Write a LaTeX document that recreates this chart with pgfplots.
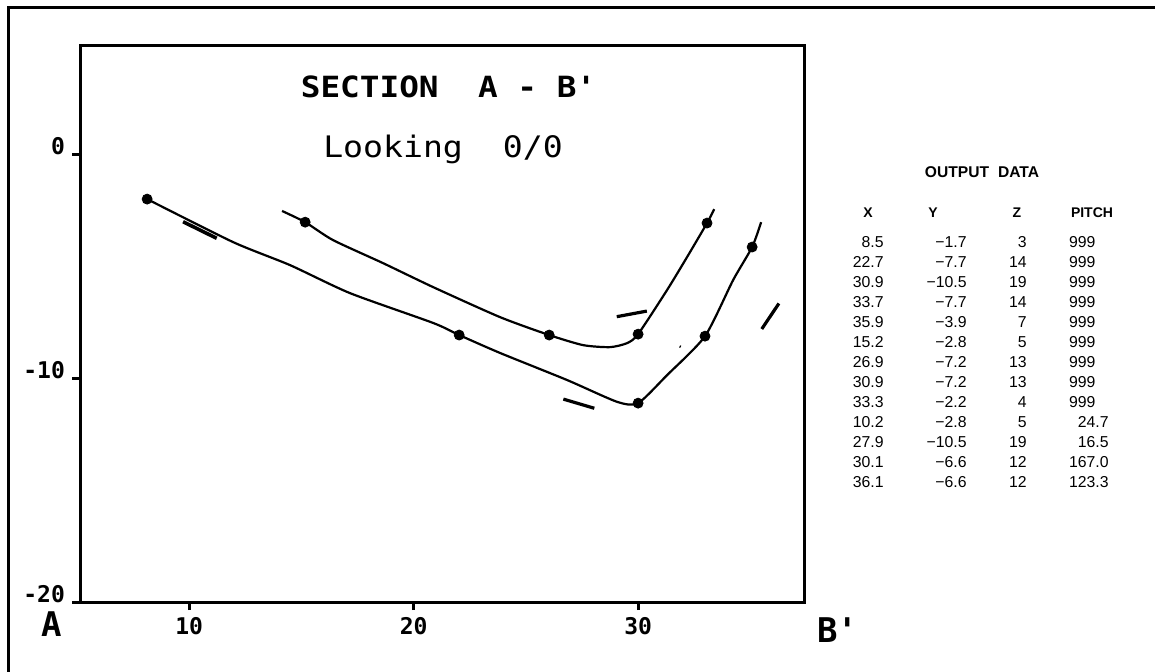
\documentclass[border=0pt]{standalone}
\usepackage{fontspec}
\usepackage{pgfplots}
\pgfplotsset{compat=1.18}
\newfontfamily\plotfont[FakeStretch=1.12]{DejaVu Sans Mono}
\newfontfamily\tickfam{DejaVu Sans Mono}
\newfontfamily\tabfont{Liberation Sans}
\begin{document}
\begin{tikzpicture}
\path[use as bounding box] (0,0) rectangle (577.5pt,-335.5pt);
\draw[line width=1.5pt] (580pt,-3.75pt) -- (4.25pt,-3.75pt) -- (4.25pt,-340pt);
\begin{axis}[
 at={(40pt,-301pt)}, anchor=south west, scale only axis,
 width=362pt, height=278.5pt,
 xmin=5.14, xmax=37.39, ymin=-20, ymax=4.87,
 axis line style={line width=1.5pt},
 xtick={10,20,30}, xticklabels={10,20,30},
 ytick={-20,-10,0}, yticklabels={-20,-10,0},
 xtick pos=bottom, ytick pos=left,
 tick align=outside, major tick length=4pt,
 tick style={black, line width=1.5pt},
 ticklabel style={font=\tickfam\bfseries\fontsize{11.5}{12}\selectfont},
 yticklabel style={yshift=4pt},
 clip=false,
]
% lower curve
\addplot[black, line width=1.1pt, smooth, tension=0.4] coordinates {
 (8.13,-2.01) (11.96,-3.93) (14.50,-4.96) (17.17,-6.21) (20.87,-7.54) (22.03,-8.08)
 (23.85,-8.88) (26.84,-10.09) (29.06,-11.06) (30.00,-11.12) (31.29,-9.87) (32.98,-8.13)
 (34.23,-5.63) (35.08,-4.15) (35.48,-3.04)};
% upper curve
\addplot[black, line width=1.1pt, smooth, tension=0.4] coordinates {
 (14.14,-2.54) (15.17,-3.04) (16.41,-3.84) (18.64,-4.87) (20.87,-5.94) (23.85,-7.28)
 (26.04,-8.08) (27.55,-8.53) (28.75,-8.62) (29.51,-8.44) (30.00,-8.04) (31.29,-6.07)
 (32.18,-4.60) (33.07,-3.08) (33.39,-2.46)};
% markers
\addplot[only marks, mark=*, mark size=2.5pt, black] coordinates {
 (8.13,-2.01) (22.03,-8.08) (30.00,-11.12) (32.98,-8.13) (35.08,-4.15)};
\addplot[only marks, mark=*, mark size=2.5pt, black] coordinates {
 (15.17,-3.04) (26.04,-8.08) (30.00,-8.04) (33.07,-3.08)};
% dashes
\addplot[black, line width=1.8pt] coordinates {(9.73,-3.02) (11.23,-3.76)};
\addplot[black, line width=1.6pt] coordinates {(29.05,-7.26) (30.39,-7.01)};
\addplot[black, line width=1.6pt] coordinates {(26.67,-10.94) (28.05,-11.35)};
\addplot[black, line width=1.6pt] coordinates {(35.51,-7.81) (36.27,-6.67)};
\addplot[black, line width=0.6pt] coordinates {(31.85,-8.64) (31.90,-8.55)};
\end{axis}
% titles
\node[anchor=base, inner sep=0] at (224.25pt,-48.5pt) {\plotfont\bfseries\fontsize{14.6}{16}\selectfont SECTION\ \ A\ -\ B'};
\node[anchor=base, inner sep=0] at (221.5pt,-78.5pt) {\plotfont\fontsize{14.8}{16}\selectfont Looking\ \ 0/0};
\node[inner sep=0] at (26pt,-312pt) {\tickfam\bfseries\fontsize{17}{18}\selectfont A};
\node[anchor=west, inner sep=0] at (408.5pt,-315pt) {\tickfam\bfseries\fontsize{17}{18}\selectfont B'};
% table
\node[anchor=base, inner sep=0] at (491pt,-88.5pt) {\tabfont\bfseries\fontsize{7.8}{9}\selectfont OUTPUT\hspace{4.5pt}DATA};
\begin{scope}[every node/.style={anchor=base, inner sep=0, font=\tabfont\bfseries\fontsize{7}{8}\selectfont}]
\node at (434pt,-108.5pt) {X};
\node at (466.5pt,-108.5pt) {Y};
\node at (508.5pt,-108.5pt) {Z};
\node at (546pt,-108.5pt) {PITCH};
\end{scope}
\begin{scope}[every node/.style={anchor=base east, inner sep=0, font=\tabfont\fontsize{7.9}{9}\selectfont}]
\foreach \a/\b/\c/\d [count=\k from 0] in {
 8.5/−1.7/3/999\phantom{.0},
 22.7/−7.7/14/999\phantom{.0},
 30.9/−10.5/19/999\phantom{.0},
 33.7/−7.7/14/999\phantom{.0},
 35.9/−3.9/7/999\phantom{.0},
 15.2/−2.8/5/999\phantom{.0},
 26.9/−7.2/13/999\phantom{.0},
 30.9/−7.2/13/999\phantom{.0},
 33.3/−2.2/4/999\phantom{.0},
 10.2/−2.8/5/24.7,
 27.9/−10.5/19/16.5,
 30.1/−6.6/12/167.0,
 36.1/−6.6/12/123.3}{
 \node at (442pt,{-123.5pt-10pt*\k}) {\a};
 \node at (483.5pt,{-123.5pt-10pt*\k}) {\b};
 \node at (513.5pt,{-123.5pt-10pt*\k}) {\c};
 \node at (554.5pt,{-123.5pt-10pt*\k}) {\d};
}
\end{scope}
\end{tikzpicture}
\end{document}
